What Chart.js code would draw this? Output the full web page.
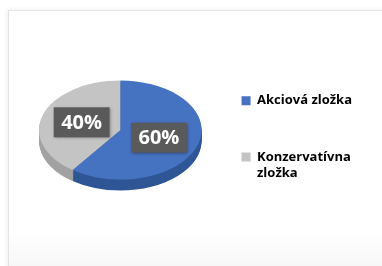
<!DOCTYPE html>
<html>
<head>
<meta charset="utf-8">
<script src="https://cdn.jsdelivr.net/npm/chart.js@4"></script>
<style>
    html, body { margin: 0; padding: 0; background: #fff; }
    #wrap { position: relative; width: 382px; height: 266px; overflow: hidden; }
    #frame {
        position: absolute; left: 8px; top: 10px; width: 400px; height: 280px;
        border-left: 1px solid #e3e3e3; border-top: 1px solid #e6e6e6;
        box-shadow: -2px -1px 4px rgba(0, 0, 0, 0.05);
        background: linear-gradient(#fff 78%, #f2f2f2 100%);
    }
    canvas { position: absolute; left: 0; top: 0; }
</style>
</head>
<body>
<div id="wrap">
    <div id="frame"></div>
    <canvas id="pieChart" width="382" height="266"></canvas>
</div>
<script>
// data
const categories = ['Akciová zložka', 'Konzervatívna zložka'];
const legendLines = [['Akciová zložka'], ['Konzervatívna', 'zložka']];
const values = [60, 40];
const pctLabels = ['60%', '40%'];

const topColors = ['#4672c2', '#c4c4c4'];
const sideColors = ['#2f5695', '#a2a2a2'];
const squash = 0.61;   // tilt of the pie
const depth = 11;      // thickness of the pie

// fake 3d: draw the side first, then squash the top face
const tiltPlugin = {
    id: 'tilt',
    beforeDatasetsDraw(chart) {
        const ctx = chart.ctx;
        const arcs = chart.getDatasetMeta(0).data;
        const cx = arcs[0].x, cy = arcs[0].y;
        for (let d = depth; d > 0; d--) {
            ctx.save();
            ctx.translate(cx, cy + d);
            ctx.scale(1, squash);
            arcs.forEach((arc, i) => {
                ctx.beginPath();
                ctx.moveTo(0, 0);
                ctx.arc(0, 0, arc.outerRadius, arc.startAngle, arc.endAngle);
                ctx.closePath();
                ctx.fillStyle = sideColors[i];
                ctx.fill();
            });
            ctx.restore();
        }
        ctx.save();
        ctx.translate(cx, cy);
        ctx.scale(1, squash);
        ctx.translate(-cx, -cy);
    },
    afterDatasetsDraw(chart) {
        const ctx = chart.ctx;
        ctx.restore();
        const arcs = chart.getDatasetMeta(0).data;
        ctx.save();
        ctx.font = 'bold 20px "Open Sans"';
        ctx.textAlign = 'center';
        ctx.textBaseline = 'middle';
        arcs.forEach((arc, i) => {
            const mid = (arc.startAngle + arc.endAngle) / 2;
            const r = arc.outerRadius * 0.5;
            const x = arc.x + Math.cos(mid) * r;
            const y = arc.y + Math.sin(mid) * r * squash;
            const w = ctx.measureText(pctLabels[i]).width + 15;
            const h = 30;
            ctx.shadowColor = 'rgba(0, 0, 0, 0.35)';
            ctx.shadowBlur = 3;
            ctx.shadowOffsetX = 1;
            ctx.shadowOffsetY = 1;
            ctx.fillStyle = '#5a5a5a';
            ctx.fillRect(x - w / 2, y - h / 2, w, h);
            ctx.shadowColor = 'transparent';
            ctx.fillStyle = '#ffffff';
            ctx.fillText(pctLabels[i], x, y + 1);
        });
        ctx.restore();
    }
};

const pieChart = new Chart(document.getElementById('pieChart'), {
    type: 'pie',
    data: {
        labels: categories,
        datasets: [{
            data: values,
            backgroundColor: topColors,
            borderWidth: 0
        }]
    },
    options: {
        responsive: false,
        animation: false,
        devicePixelRatio: 1,
        layout: {
            padding: { left: 39, top: 37, bottom: 43, right: 20 }
        },
        plugins: {
            legend: {
                position: 'right',
                align: 'end',
                labels: {
                    boxWidth: 9,
                    boxHeight: 9,
                    padding: 40,
                    color: '#363636',
                    font: { family: 'Open Sans', size: 13, weight: 'bold', lineHeight: 1.25 },
                    generateLabels: (chart) => categories.map((c, i) => ({
                        text: legendLines[i],
                        fillStyle: topColors[i],
                        strokeStyle: topColors[i],
                        lineWidth: 0,
                        hidden: false,
                        index: i
                    }))
                }
            },
            tooltip: { enabled: false }
        }
    },
    plugins: [tiltPlugin]
});
</script>
</body>
</html>
